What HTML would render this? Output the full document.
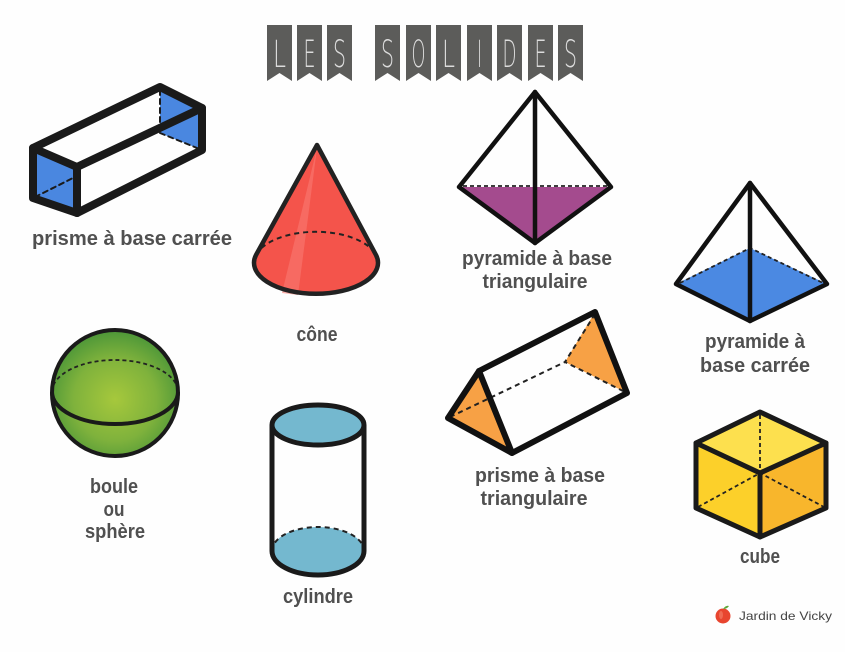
<!DOCTYPE html>
<html><head><meta charset="utf-8">
<style>
html,body{margin:0;padding:0;background:#fefefe;}
svg{display:block;}
.lbl{font-family:"Liberation Sans",sans-serif;font-weight:bold;font-size:20px;fill:#505050;text-anchor:middle;}
.tl{font-family:"DejaVu Sans","Liberation Sans",sans-serif;font-weight:200;font-size:37px;fill:#dcdcdc;text-anchor:middle;}
</style></head>
<body>
<svg width="845" height="652" viewBox="0 0 845 652" xmlns="http://www.w3.org/2000/svg">
<defs>
<radialGradient id="sg" cx="0.5" cy="0.55" r="0.55">
<stop offset="0" stop-color="#a6c83c"/>
<stop offset="0.6" stop-color="#7fb23c"/>
<stop offset="1" stop-color="#4c9638"/>
</radialGradient>
</defs>
<rect width="845" height="652" fill="#fefefe"/>

<!-- Title banners -->
<g fill="#5c5c5a">
<path d="M267 25H292V81L279.5 73L267 81Z"/>
<path d="M297 25H322V81L309.5 73L297 81Z"/>
<path d="M327 25H352V81L339.5 73L327 81Z"/>
<path d="M375 25H400V81L387.5 73L375 81Z"/>
<path d="M406 25H431V81L418.5 73L406 81Z"/>
<path d="M436 25H461V81L448.5 73L436 81Z"/>
<path d="M467 25H492V81L479.5 73L467 81Z"/>
<path d="M497 25H522V81L509.5 73L497 81Z"/>
<path d="M528 25H553V81L540.5 73L528 81Z"/>
<path d="M558 25H583V81L570.5 73L558 81Z"/>
</g>
<text class="tl" x="279.5" y="67" textLength="13" lengthAdjust="spacingAndGlyphs">L</text>
<text class="tl" x="309.5" y="67" textLength="12" lengthAdjust="spacingAndGlyphs">E</text>
<text class="tl" x="339.5" y="67" textLength="13" lengthAdjust="spacingAndGlyphs">S</text>
<text class="tl" x="387.5" y="67" textLength="13" lengthAdjust="spacingAndGlyphs">S</text>
<text class="tl" x="418.5" y="67" textLength="14" lengthAdjust="spacingAndGlyphs">O</text>
<text class="tl" x="448.5" y="67" textLength="13" lengthAdjust="spacingAndGlyphs">L</text>
<text class="tl" x="479.5" y="67" textLength="5" lengthAdjust="spacingAndGlyphs">I</text>
<text class="tl" x="509.5" y="67" textLength="14" lengthAdjust="spacingAndGlyphs">D</text>
<text class="tl" x="540.5" y="67" textLength="12" lengthAdjust="spacingAndGlyphs">E</text>
<text class="tl" x="570.5" y="67" textLength="13" lengthAdjust="spacingAndGlyphs">S</text>

<!-- Rectangular prism -->
<g stroke-linejoin="round" stroke-linecap="round">
<polygon points="33,148 77,167 77,213 33,198" fill="#4a87e0"/>
<polygon points="160,87 202,108 202,150 160,133" fill="#4a87e0"/>
<g stroke="#1a1a1a" stroke-width="2" stroke-dasharray="5,4" fill="none">
<line x1="160" y1="90" x2="160" y2="133"/>
<line x1="160" y1="133" x2="202" y2="150"/>
<line x1="35" y1="197" x2="77" y2="176"/>
</g>
<g stroke="#1a1a1a" stroke-width="8" fill="none">
<polygon points="33,148 160,87 202,108 202,150 77,213 33,198"/>
<polyline points="33,148 77,167 202,108"/>
<line x1="77" y1="167" x2="77" y2="213"/>
</g>
</g>
<text class="lbl" x="132" y="245" textLength="200" lengthAdjust="spacingAndGlyphs">prisme à base carrée</text>

<!-- Cone -->
<path d="M317 145 L256 255 A62 31 0 1 0 376 255 Z" fill="#f4544b"/>
<path d="M317 148 L282 293 L298 295 Z" fill="#f87a72" opacity="0.6"/>
<path d="M256 255 A62 31 0 0 1 376 255" fill="none" stroke="#222" stroke-width="2" stroke-dasharray="5,4"/>
<path d="M317 145 L256 255 A62 31 0 1 0 376 255 Z" fill="none" stroke="#222" stroke-width="4.5" stroke-linejoin="round"/>
<text class="lbl" x="317" y="341" textLength="41" lengthAdjust="spacingAndGlyphs">cône</text>

<!-- Triangular pyramid -->
<polygon points="459,187 611,187 535,243" fill="#a44b8e"/>
<line x1="463" y1="186" x2="607" y2="186" stroke="#222" stroke-width="1.8" stroke-dasharray="4,3"/>
<g stroke="#111" stroke-width="4.5" fill="none" stroke-linejoin="round" stroke-linecap="round">
<polygon points="535,92 611,187 535,243 459,187"/>
<line x1="535" y1="92" x2="535" y2="243"/>
</g>
<text class="lbl" x="537" y="265" textLength="150" lengthAdjust="spacingAndGlyphs">pyramide à base</text>
<text class="lbl" x="535" y="288" textLength="105" lengthAdjust="spacingAndGlyphs">triangulaire</text>

<!-- Square pyramid -->
<polygon points="676,284 750,248 827,284 750,321" fill="#4b89e2"/>
<g stroke="#222" stroke-width="1.8" stroke-dasharray="4,3" fill="none">
<polyline points="680,283 750,248 823,283"/>
</g>
<g stroke="#111" stroke-width="4.5" fill="none" stroke-linejoin="round" stroke-linecap="round">
<polygon points="750,183 827,284 750,321 676,284"/>
<line x1="750" y1="183" x2="750" y2="321"/>
</g>
<text class="lbl" x="755" y="348" textLength="100" lengthAdjust="spacingAndGlyphs">pyramide à</text>
<text class="lbl" x="755" y="372" textLength="110" lengthAdjust="spacingAndGlyphs">base carrée</text>

<!-- Sphere -->
<circle cx="115" cy="393" r="63" fill="url(#sg)"/>
<path d="M52 392 A63 32 0 0 1 178 392" fill="none" stroke="#222" stroke-width="1.8" stroke-dasharray="4,3"/>
<path d="M52 392 A63 32 0 0 0 178 392" fill="none" stroke="#1a1a1a" stroke-width="4"/>
<circle cx="115" cy="393" r="63" fill="none" stroke="#1a1a1a" stroke-width="4"/>
<text class="lbl" x="114" y="493" textLength="48" lengthAdjust="spacingAndGlyphs">boule</text>
<text class="lbl" x="114" y="516" textLength="21" lengthAdjust="spacingAndGlyphs">ou</text>
<text class="lbl" x="115" y="538" textLength="60" lengthAdjust="spacingAndGlyphs">sphère</text>

<!-- Cylinder -->
<ellipse cx="318" cy="551" rx="46" ry="24" fill="#74b8cf"/>
<path d="M272 551 A46 24 0 0 1 364 551" fill="none" stroke="#222" stroke-width="2" stroke-dasharray="5,4"/>
<path d="M272 551 A46 24 0 0 0 364 551" fill="none" stroke="#1a1a1a" stroke-width="5"/>
<line x1="272" y1="425" x2="272" y2="551" stroke="#1a1a1a" stroke-width="5"/>
<line x1="364" y1="425" x2="364" y2="551" stroke="#1a1a1a" stroke-width="5"/>
<ellipse cx="318" cy="425" rx="46" ry="20" fill="#74b8cf" stroke="#1a1a1a" stroke-width="5"/>
<text class="lbl" x="318" y="603" textLength="70" lengthAdjust="spacingAndGlyphs">cylindre</text>

<!-- Triangular prism -->
<polygon points="479,371 512,453 448,418" fill="#f7a145"/>
<polygon points="595,312 627,393 565,362" fill="#f7a145"/>
<g stroke="#222" stroke-width="2" stroke-dasharray="5,4" fill="none">
<polyline points="595,314 565,362 625,392"/>
<line x1="450" y1="417" x2="565" y2="362"/>
</g>
<g stroke="#111" stroke-width="6" fill="none" stroke-linejoin="round" stroke-linecap="round">
<polygon points="479,371 595,312 627,393 512,453 448,418"/>
<line x1="479" y1="371" x2="512" y2="453"/>
</g>
<text class="lbl" x="540" y="482" textLength="130" lengthAdjust="spacingAndGlyphs">prisme à base</text>
<text class="lbl" x="534" y="505" textLength="107" lengthAdjust="spacingAndGlyphs">triangulaire</text>

<!-- Cube -->
<polygon points="760,412 826,443 760,473 696,443" fill="#fde04e"/>
<polygon points="696,443 760,473 760,537 696,508" fill="#fcd02a"/>
<polygon points="760,473 826,443 826,508 760,537" fill="#f8b62c"/>
<g stroke="#222" stroke-width="1.8" stroke-dasharray="4,3" fill="none">
<line x1="760" y1="415" x2="760" y2="473"/>
<polyline points="698,507 760,473 824,507"/>
</g>
<g stroke="#1a1a1a" stroke-width="5" fill="none" stroke-linejoin="round" stroke-linecap="round">
<polygon points="760,412 826,443 826,508 760,537 696,508 696,443"/>
<polyline points="696,443 760,473 826,443"/>
<line x1="760" y1="473" x2="760" y2="537"/>
</g>
<text class="lbl" x="760" y="563" textLength="40" lengthAdjust="spacingAndGlyphs">cube</text>

<!-- Footer -->
<circle cx="723" cy="616" r="7.5" fill="#e8452f"/>
<ellipse cx="721" cy="615" rx="2" ry="4" fill="#f27a63" opacity="0.7"/>
<path d="M723 609 Q726 605 729 606 Q727 609 723 609Z" fill="#5fa83a"/>
<text x="739" y="620" font-family="Liberation Sans, sans-serif" font-size="12" fill="#444" textLength="93" lengthAdjust="spacingAndGlyphs">Jardin de Vicky</text>
</svg>
</body></html>
